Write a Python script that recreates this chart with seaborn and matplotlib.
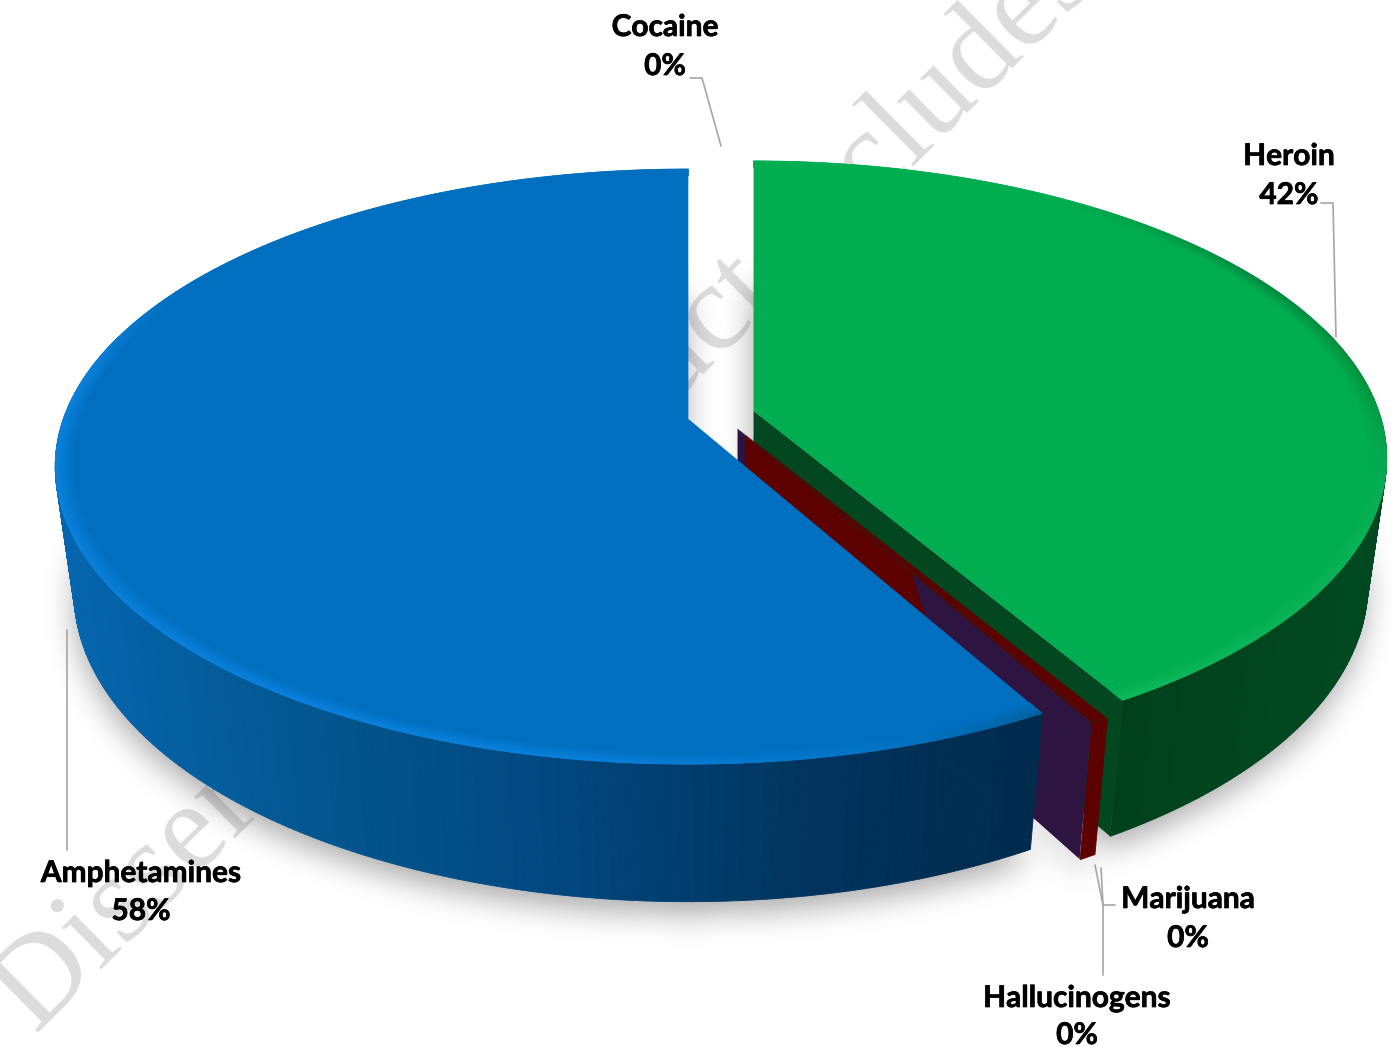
"""Exploded 3D-look pie of drug shares, drawn in pixel space with a small camera model."""
import numpy as np
import pandas as pd
import matplotlib
matplotlib.use("Agg")
import matplotlib.pyplot as plt
import matplotlib.patheffects as pe
import seaborn as sns
from matplotlib.collections import PolyCollection
from matplotlib.colors import to_rgb
from matplotlib.path import Path

# clockwise from 12 o'clock
drugs = ["Heroin", "Marijuana", "Hallucinogens", "Amphetamines", "Cocaine"]
shares = [41.5, 0.3, 0.1, 58.1, 0.0]

top_colors = ["#00ad50", "#5c0000", "#2e1440", "#006fc0", "#ffffff"]

label_names = [(1289, 156), (1188, 899), (1077, 998), (141, 873), (665, 27)]
label_pcts = [(1289, 195), (1188, 938), (1077, 1035), (141, 911), (665, 66)]

leaders = [
    [(1321, 203), (1333, 203), (1336, 337)],
    [(1115, 905), (1103, 905), (1101, 868)],
    [(1103, 975), (1103, 905), (1095, 865)],
    [(67, 850), (67, 630)],
    [(690, 78), (702, 78), (721, 146)],
]

# camera
CX, CY = 721, 415
RX, RY = 625, 290
DEPTH = 130
PERSP, PERSP_Z = 0.16, 0.03
EXPLODE = 0.054

sns.set_theme(style="white")
plt.rcParams["font.family"] = ["Lato", "DejaVu Sans"]

df = pd.DataFrame({"drug": drugs, "share": shares})
df["stop"] = df["share"].cumsum() / df["share"].sum() * 2 * np.pi
df["start"] = df["stop"].shift(fill_value=0.0)
df["mid"] = (df["start"] + df["stop"]) / 2
df = df.set_index("drug")
df_colors = dict(zip(drugs, top_colors))


def project(x, y, z):
    w = 1 + PERSP * y - PERSP_Z * z
    return np.column_stack([CX + RX * x / w, CY - RY * y / w - DEPTH * z / w])


def disc_point(name, r, theta, z=0.0):
    """r/theta on the slice, moved out along its bisector (flat screen shift)."""
    mid = df.loc[name, "mid"]
    theta = np.atleast_1d(theta)
    r = np.broadcast_to(r, theta.shape)
    pts = project(r * np.sin(theta), r * np.cos(theta), np.broadcast_to(z, theta.shape))
    return pts + [RX * EXPLODE * np.sin(mid), -RY * EXPLODE * np.cos(mid)]


def thetas(name, step=np.radians(0.6)):
    a, b = df.loc[name, "start"], df.loc[name, "stop"]
    return np.linspace(a, b, max(2, int((b - a) / step) + 1))


def face(name, z=0.0):
    t = thetas(name)
    return np.vstack([disc_point(name, 0.0, t[0], z), disc_point(name, 1.0, t, z)])


def outer_wall(ax, name, colors, zorder):
    t = thetas(name)
    t = t[np.cos(t) < 0.3]  # back of the rim is hidden anyway
    quads, cols = [], []
    for a, b in zip(t[:-1], t[1:]):
        q = np.vstack([disc_point(name, 1.0, a), disc_point(name, 1.0, b),
                       disc_point(name, 1.0, b, -1.0), disc_point(name, 1.0, a, -1.0)])
        quads.append(q)
        cols.append(colors(q[:, 0].mean()))
    ax.add_collection(PolyCollection(quads, facecolors=cols, edgecolors=cols, linewidths=0.6, zorder=zorder))


def bevel(ax, name, nodes, node_colors, zorder):
    """Soft rim on the top face; colour follows the angle."""
    base = np.array(to_rgb(df_colors[name]))
    node_rgb = np.array([to_rgb(c) for c in node_colors])
    t = thetas(name)
    radii = np.linspace(0.968, 1.0, 8)
    quads, cols = [], []
    for r0, r1 in zip(radii[:-1], radii[1:]):
        mix = (r0 - radii[0]) / (radii[-2] - radii[0])
        for a, b in zip(t[:-1], t[1:]):
            deg = np.degrees((a + b) / 2)
            rim = np.array([np.interp(deg, nodes, node_rgb[:, i]) for i in range(3)])
            quads.append(np.vstack([disc_point(name, r0, a), disc_point(name, r0, b),
                                    disc_point(name, r1, b), disc_point(name, r1, a)]))
            cols.append(tuple(base + (rim - base) * mix))
    ax.add_collection(PolyCollection(quads, facecolors=cols, edgecolors=cols, linewidths=0.5, zorder=zorder))


fig = plt.figure(figsize=(13.93, 10.47), dpi=100)
ax = fig.add_axes([0, 0, 1, 1])

# watermark sits under everything
ax.text(36, 1035, "Dissertation  product includes", family="Liberation Serif", fontsize=90,
        color="#dcdcdc", rotation=44.7, rotation_mode="anchor", ha="left", va="baseline", zorder=1)

# soft drop shadow: rasterise the slice bottoms, blur, show as black with alpha
gx, gy = np.meshgrid(np.arange(0, 1393, 3) + 1.5, np.arange(0, 1047, 3) + 1.5)
grid = np.column_stack([gx.ravel(), gy.ravel() - 12])
mask = np.zeros(gx.shape)
for name in ["Heroin", "Marijuana", "Amphetamines"]:
    mask = np.maximum(mask, Path(face(name, -1.0)).contains_points(grid).reshape(gx.shape).astype(float))
kernel = np.exp(-0.5 * (np.arange(-14, 15) / 5.0) ** 2)
kernel /= kernel.sum()
blur = np.apply_along_axis(lambda s: np.convolve(s, kernel, mode="same"), 0, mask)
blur = np.apply_along_axis(lambda s: np.convolve(s, kernel, mode="same"), 1, blur)
shadow = np.zeros(gx.shape + (4,))
shadow[..., 3] = blur * 0.33
ax.imshow(shadow, extent=(0, 1393, 1047, 0), aspect="auto", interpolation="bilinear", zorder=2)

# Heroin
green_wall = sns.blend_palette(["#00401c", "#004a20"], 20)
outer_wall(ax, "Heroin", lambda u: green_wall[int(np.clip((u - 1100) / 290 * 19, 0, 19))], 3)
end = df.loc["Heroin", "stop"]
radial = np.vstack([disc_point("Heroin", 0.0, end), disc_point("Heroin", 1.0, end),
                    disc_point("Heroin", 1.0, end, -1.0), disc_point("Heroin", 0.0, end, -1.0)])
ax.fill(radial[:, 0], radial[:, 1], color="#02471f", lw=0, zorder=3)
pts = face("Heroin")
ax.fill(pts[:, 0], pts[:, 1], color=df_colors["Heroin"], lw=0, zorder=4)
bevel(ax, "Heroin", [0, 35, 60, 85, 105, 150], ["#00ad50", "#00ad50", "#048a42", "#05953f", "#08ae55", "#0fb85c"], 5)

# the two thin slices: purple side face, dark red rim and inner part
th = df.loc["Hallucinogens", "stop"]
purple = np.vstack([disc_point("Hallucinogens", 0.0, th), disc_point("Hallucinogens", 1.0, th),
                    disc_point("Hallucinogens", 1.0, th, -1.0), disc_point("Hallucinogens", 0.0, th, -1.0)])
ax.fill(purple[:, 0], purple[:, 1], color=df_colors["Hallucinogens"], lw=0, zorder=6)
inner = np.vstack([disc_point("Hallucinogens", 0.025, th), disc_point("Hallucinogens", 0.53, th),
                   disc_point("Hallucinogens", 0.72, th, -1.0), disc_point("Hallucinogens", 0.025, th, -1.0)])
ax.fill(inner[:, 0], inner[:, 1], color=df_colors["Marijuana"], lw=0, zorder=7)
for name in ["Marijuana", "Hallucinogens"]:
    outer_wall(ax, name, lambda u: df_colors["Marijuana"], 5.5)
    pts = face(name)
    ax.fill(pts[:, 0], pts[:, 1], color=df_colors["Marijuana"], lw=0, zorder=5.5)

# Amphetamines
blue_wall = sns.blend_palette(["#0565ae", "#03568f", "#02477f", "#01345e", "#002a4c"], 60)
outer_wall(ax, "Amphetamines", lambda u: blue_wall[int(np.clip((u - 60) / 980 * 59, 0, 59))], 8)
pts = face("Amphetamines")
ax.fill(pts[:, 0], pts[:, 1], color=df_colors["Amphetamines"], lw=0, zorder=9)
bevel(ax, "Amphetamines", [150, 165, 190, 280, 300, 360],
      ["#00609f", "#0474c6", "#0a80da", "#0a80da", "#006fc0", "#006fc0"], 10)

for line in leaders:
    xs, ys = zip(*line)
    ax.plot(xs, ys, color="#a6a6a6", lw=1.2, zorder=11, solid_joinstyle="miter")

heavier = [pe.withStroke(linewidth=0.5, foreground="black")]
for name, (nx, ny), (px, py) in zip(drugs, label_names, label_pcts):
    ax.text(nx, ny, name, fontsize=21.5, fontweight="bold", color="black", ha="center", va="center",
            zorder=12, path_effects=heavier)
    ax.text(px, py, f"{df.loc[name, 'share']:.0f}%", fontsize=21.5, fontweight="bold", color="black",
            ha="center", va="center", zorder=12, path_effects=heavier)

ax.set_xlim(0, 1393)
ax.set_ylim(1047, 0)
ax.axis("off")
fig.savefig("out.png", dpi=100, facecolor="white")
